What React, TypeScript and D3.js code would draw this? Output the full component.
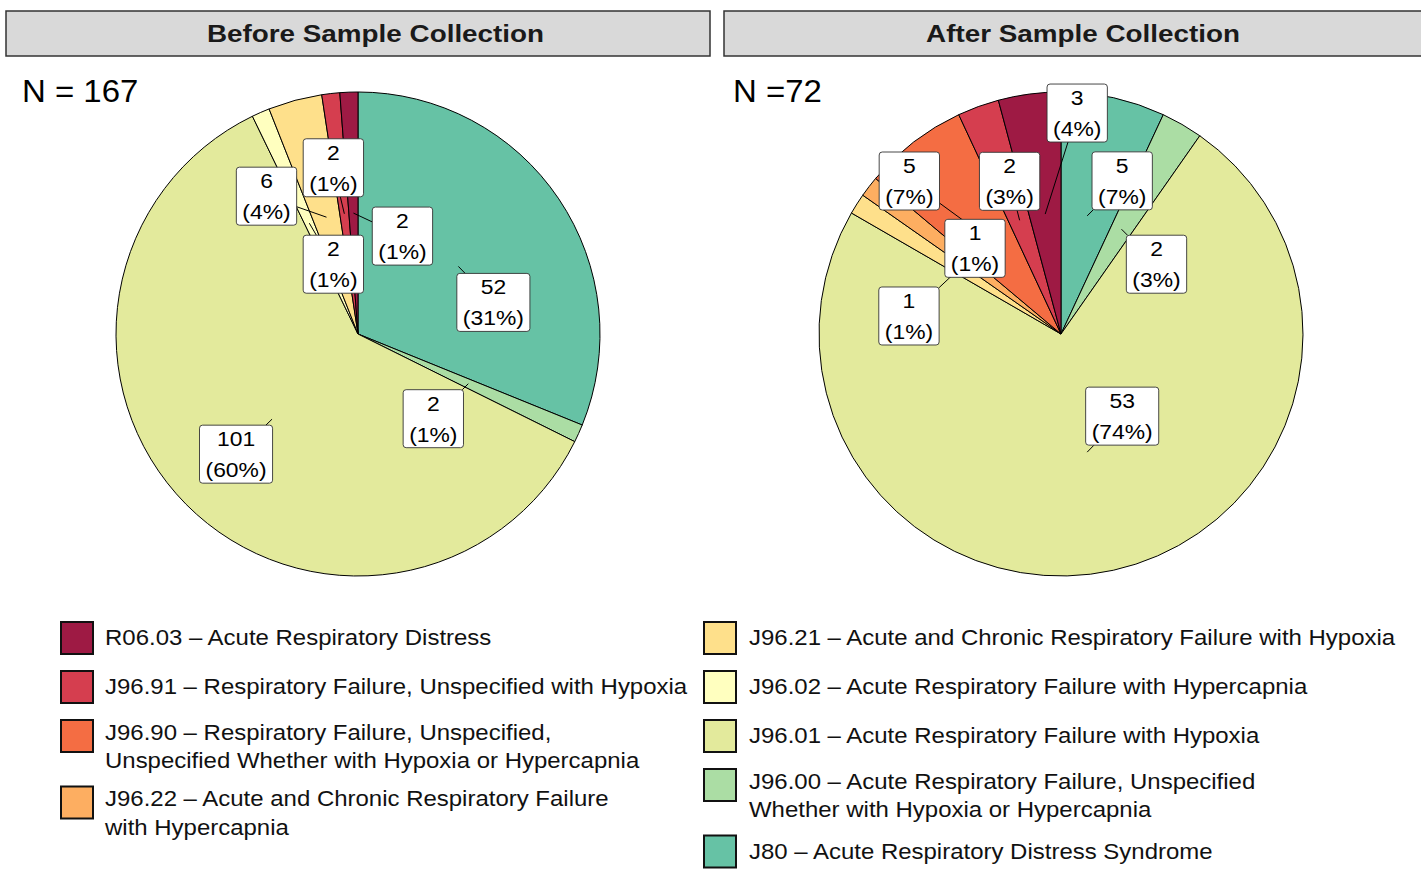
import * as d3 from "d3";
import { useEffect, useRef } from "react";

// slices go clockwise from 12 o'clock in this order
const codes = ["J80", "J96.00", "J96.01", "J96.02", "J96.21", "J96.22", "J96.90", "J96.91", "R06.03"];
const codeColors = ["#66C2A5", "#ABDDA4", "#E3EA9C", "#FFFFBF", "#FEE08B", "#FDAE61", "#F46D43", "#D53E4F", "#9E1A44"];

const beforeCounts = [52, 2, 101, 2, 6, 0, 0, 2, 2];
const afterCounts = [5, 2, 53, 0, 1, 1, 5, 2, 3];

const panelTitles = ["Before Sample Collection", "After Sample Collection"];
const panelNText = ["N = 167", "N =72"];

const legendLabels = [
  ["J80 – Acute Respiratory Distress Syndrome"],
  ["J96.00 – Acute Respiratory Failure, Unspecified", "Whether with Hypoxia or Hypercapnia"],
  ["J96.01 – Acute Respiratory Failure with Hypoxia"],
  ["J96.02 – Acute Respiratory Failure with Hypercapnia"],
  ["J96.21 – Acute and Chronic Respiratory Failure with Hypoxia"],
  ["J96.22 – Acute and Chronic Respiratory Failure", "with Hypercapnia"],
  ["J96.90 – Respiratory Failure, Unspecified,", "Unspecified Whether with Hypoxia or Hypercapnia"],
  ["J96.91 – Respiratory Failure, Unspecified with Hypoxia"],
  ["R06.03 – Acute Respiratory Distress"],
];
const legendColLeft = ["R06.03", "J96.91", "J96.90", "J96.22"];
const legendColRight = ["J96.21", "J96.02", "J96.01", "J96.00", "J80"];

// repelled label offsets (box centre minus slice anchor), per code
const beforeNudge = [[35, 36], [-35, 35], [-36, 35], [24, 41], [-60, -21], null, null, [-11, -46], [49, 23]];
const afterNudge = [[35, -35], [35, 35], [35, -36], null, [-50, 47], [10, -12], [-78, -57], [-10, -39], [32, -101]];

const W = 1421;
const H = 869;
const FONT = "'Liberation Sans', Arial, Helvetica, sans-serif";
const SX = 1.09; // source text is a bit wider than Arial

export default function App() {
  const svgRef = useRef<SVGSVGElement>(null);

  useEffect(() => {
    const svg = d3.select(svgRef.current);
    svg.selectAll("*").remove();

    const radius = 242;
    const color = d3.scaleOrdinal<string, string>().domain(codes).range(codeColors);
    const pie = d3.pie<number>().sort(null).value((d) => d).startAngle(0).endAngle(2 * Math.PI);
    const arc = d3.arc<d3.PieArcDatum<number>>().innerRadius(0).outerRadius(radius);

    const panels = [
      { x0: 6, x1: 710, tx: 375.5, cx: 358, cy: 334, nx: 22, counts: beforeCounts, nudge: beforeNudge },
      { x0: 724, x1: 1428, tx: 1083, cx: 1061, cy: 334, nx: 733, counts: afterCounts, nudge: afterNudge },
    ];

    panels.forEach((p, pi) => {
      // strip
      svg.append("rect")
        .attr("x", p.x0).attr("y", 11)
        .attr("width", p.x1 - p.x0).attr("height", 45)
        .attr("fill", "#D9D9D9").attr("stroke", "#333").attr("stroke-width", 1.5);
      svg.append("text")
        .attr("transform", `translate(${p.tx},42) scale(1.16,1)`)
        .attr("text-anchor", "middle")
        .attr("font-family", FONT).attr("font-weight", "bold").attr("font-size", 24)
        .attr("fill", "#1a1a1a")
        .text(panelTitles[pi]);

      svg.append("text")
        .attr("transform", `translate(${p.nx},102) scale(1.08,1)`)
        .attr("font-family", FONT).attr("font-size", 30.5)
        .attr("fill", "#000")
        .text(panelNText[pi]);

      const total = d3.sum(p.counts);
      const arcs = pie(p.counts);
      const g = svg.append("g").attr("transform", `translate(${p.cx},${p.cy})`);

      g.selectAll("path.slice")
        .data(arcs.filter((a) => a.value > 0))
        .enter()
        .append("path")
        .attr("class", "slice")
        .attr("d", arc)
        .attr("fill", (d) => color(codes[d.index]))
        .attr("stroke", "#000")
        .attr("stroke-width", 1);

      // labels
      const labels = arcs
        .filter((a) => a.value > 0)
        .map((a) => {
          const [ax, ay] = arc.centroid(a);
          const off = p.nudge[a.index] || [0, 0];
          return {
            ax, ay,
            bx: ax + off[0], by: ay + off[1],
            l1: String(a.value),
            l2: `(${Math.round((a.value / total) * 100)}%)`,
          };
        });

      const segLayer = g.append("g");
      const boxLayer = g.append("g");

      labels.forEach((lb) => {
        const lg = boxLayer.append("g");
        const rect = lg.append("rect");
        const t1 = lg.append("text")
          .attr("text-anchor", "middle")
          .attr("font-family", FONT).attr("font-size", 21)
          .text(lb.l1);
        const t2 = lg.append("text")
          .attr("text-anchor", "middle")
          .attr("font-family", FONT).attr("font-size", 21)
          .text(lb.l2);
        const tw = Math.max(
          (t1.node() as SVGTextElement).getComputedTextLength(),
          (t2.node() as SVGTextElement).getComputedTextLength()
        ) * SX;
        const bw = tw + 12;
        const bh = 58;
        const top = lb.by - bh / 2;
        t1.attr("transform", `translate(${lb.bx},${top + 21}) scale(${SX},1)`);
        t2.attr("transform", `translate(${lb.bx},${top + 52}) scale(${SX},1)`);
        rect
          .attr("x", lb.bx - bw / 2).attr("y", top)
          .attr("width", bw).attr("height", bh)
          .attr("rx", 3)
          .attr("fill", "#fff").attr("stroke", "#333").attr("stroke-width", 0.9);

        // leader from anchor to box edge, on the line towards the box centre
        const dx = lb.ax - lb.bx;
        const dy = lb.ay - lb.by;
        const inside = Math.abs(dx) <= bw / 2 && Math.abs(dy) <= bh / 2;
        if (!inside) {
          const t = Math.min(
            dx !== 0 ? bw / 2 / Math.abs(dx) : Infinity,
            dy !== 0 ? bh / 2 / Math.abs(dy) : Infinity
          );
          segLayer.append("line")
            .attr("x1", lb.ax).attr("y1", lb.ay)
            .attr("x2", lb.bx + dx * t).attr("y2", lb.by + dy * t)
            .attr("stroke", "#000").attr("stroke-width", 1);
        }
      });
    });

    // legend
    const legendCols = [
      { items: legendColLeft, sx: 61, tx: 105, top: 622 },
      { items: legendColRight, sx: 704, tx: 749, top: 622 },
    ];
    legendCols.forEach((col) => {
      let y = col.top;
      col.items.forEach((code) => {
        const idx = codes.indexOf(code);
        const lines = legendLabels[idx];
        svg.append("rect")
          .attr("x", col.sx).attr("y", y)
          .attr("width", 32).attr("height", 32)
          .attr("fill", codeColors[idx])
          .attr("stroke", "#111").attr("stroke-width", 2);
        lines.forEach((ln, li) => {
          const base = lines.length === 1 ? y + 23 : y + 19.5 + li * 28.5;
          svg.append("text")
            .attr("transform", `translate(${col.tx},${base}) scale(${SX},1)`)
            .attr("font-family", FONT).attr("font-size", 22)
            .attr("fill", "#111")
            .text(ln);
        });
        y += 49 + 17.5 * (lines.length - 1);
      });
    });
  }, []);

  return (
    <svg
      ref={svgRef}
      width={W}
      height={H}
      style={{ position: "absolute", left: 0, top: 0, background: "#fff" }}
    />
  );
}
